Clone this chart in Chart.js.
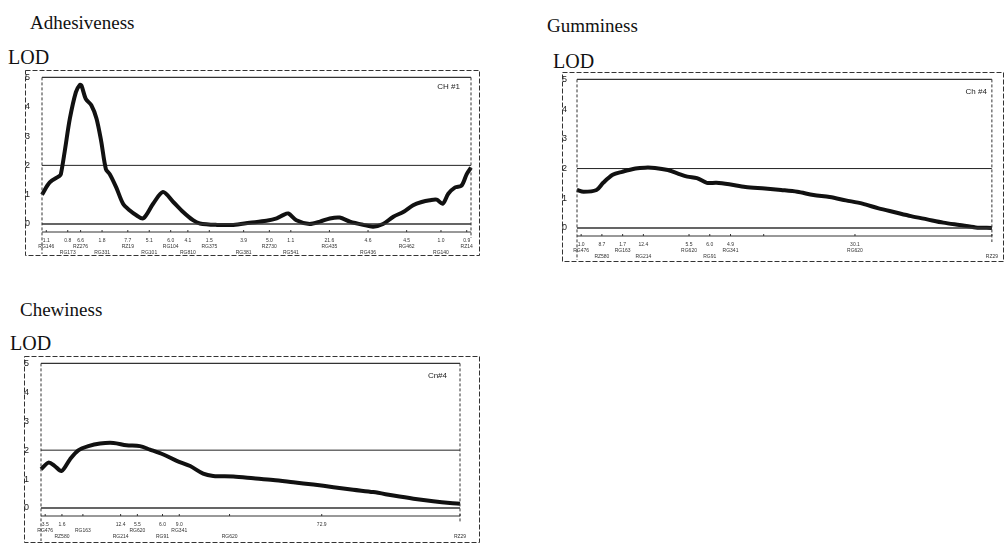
<!DOCTYPE html>
<html>
<head>
<meta charset="utf-8">
<script src="https://cdn.jsdelivr.net/npm/chart.js@4.4.0/dist/chart.umd.min.js"></script>
<style>
  body { margin: 0; width: 1008px; height: 543px; background: #fff; position: relative; overflow: hidden;
         font-family: "Liberation Serif", "DejaVu Serif", serif; color: #111; }
  .title { position: absolute; font-size: 19px; line-height: 1; }
  .lod { position: absolute; font-size: 20px; line-height: 1; }
  canvas { position: absolute; }
</style>
</head>
<body>

<div class="title" style="left:30px;top:13px">Adhesiveness</div>
<div class="lod" style="left:8px;top:47px">LOD</div>
<canvas id="adh" width="455" height="186" style="left:25px;top:70px"></canvas>

<div class="title" style="left:547px;top:16px">Gumminess</div>
<div class="lod" style="left:553px;top:51px">LOD</div>
<canvas id="gum" width="442" height="190" style="left:562px;top:72px"></canvas>

<div class="title" style="left:20px;top:300px">Chewiness</div>
<div class="lod" style="left:10px;top:333px">LOD</div>
<canvas id="che" width="456" height="187" style="left:24px;top:356px"></canvas>

<script>
// ===== data (position along the chromosome, % of length; LOD score) =====
const threshold = 2;
const lodTicks = [0, 1, 2, 3, 4, 5];

const adhPos = [0, 1.8, 4.1, 4.4, 5.3, 6.5, 7.9, 8.8, 9.2, 10.2, 11.5, 12.7, 13.8, 14.9, 15.8, 17.3, 18.9, 20.4, 22.0, 23.6,
  25.9, 28.2, 30.6, 32.9, 35.2, 36.8, 40.7, 44.6, 48.4, 52.3, 54.7, 56.2, 57.4, 59.3, 62.4, 64.8, 67.1, 69.4, 71.8, 74.9,
  77.2, 79.5, 81.9, 84.2, 86.5, 88.5, 90.4, 92.0, 93.4, 94.7, 96.3, 97.8, 99.0, 100];
const adhLod = [1.0, 1.42, 1.64, 1.70, 2.48, 3.6, 4.5, 4.74, 4.72, 4.27, 4.05, 3.6, 2.82, 1.87, 1.70, 1.25, 0.69, 0.47, 0.30, 0.19,
  0.69, 1.09, 0.75, 0.41, 0.13, 0.02, -0.03, -0.03, 0.04, 0.11, 0.19, 0.30, 0.36, 0.13, 0, 0.08, 0.19, 0.22, 0.08, -0.03,
  -0.09, 0, 0.25, 0.41, 0.64, 0.75, 0.81, 0.83, 0.69, 1.03, 1.25, 1.31, 1.70, 1.92];
const adhMarkerPos = [1, 6, 9, 14, 20, 25, 30, 34, 39, 47, 53, 58, 67, 76, 85, 93, 99];
const adhMarkerDist = ['1.1', '0.8', '6.6', '1.8', '7.7', '5.1', '6.0', '4.1', '1.5', '3.9', '5.0', '1.1', '21.6', '4.6', '4.5', '1.0', '0.9'];
const adhMarkerName = ['RG146', 'RG173', 'RZ276', 'RG331', 'RZ19', 'RG101', 'RG104', 'RG810', 'RG375', 'RG381', 'RZ730',
  'RG541', 'RG435', 'RG436', 'RG462', 'RG140', 'RZ14'];

const gumPos = [0, 1.6, 4.7, 6.3, 8.6, 10.9, 14.1, 16.4, 18.8, 21.9, 24.2, 26.6, 28.9, 31.3, 33.6, 36.7, 40.6, 45.3, 49.2, 53.1,
  57.0, 60.9, 64.8, 68.8, 72.7, 76.6, 80.5, 84.4, 88.3, 92.2, 96.1, 100];
const gumLod = [1.28, 1.22, 1.28, 1.52, 1.79, 1.89, 2.0, 2.03, 2.02, 1.95, 1.84, 1.73, 1.68, 1.52, 1.52, 1.47, 1.38, 1.33, 1.28, 1.22,
  1.11, 1.04, 0.93, 0.82, 0.66, 0.53, 0.40, 0.29, 0.18, 0.10, 0.02, 0];
const gumMarkerPos = [1, 6, 11, 16, 27, 32, 37, 45, 67, 100];
const gumMarkerDist = ['1.0', '8.7', '1.7', '12.4', '5.5', '6.0', '4.9', '', '30.1', ''];
const gumMarkerName = ['RG476', 'RZ580', 'RG163', 'RG214', 'RG620', 'RG91', 'RG341', '', 'RG620', 'RZ29'];

const chePos = [0, 1.8, 3.3, 4.9, 6.9, 8.9, 11.3, 14.1, 17.3, 20.4, 23.6, 26.0, 29.2, 32.4, 35.6, 38.7, 41.1, 45.9, 50.7, 55.4,
  60.2, 65.0, 69.8, 74.5, 79.3, 84.1, 88.9, 93.6, 97.6, 100];
const cheLod = [1.34, 1.57, 1.45, 1.28, 1.68, 1.99, 2.14, 2.23, 2.25, 2.17, 2.14, 2.02, 1.85, 1.63, 1.45, 1.19, 1.11, 1.09, 1.03, 0.97,
  0.89, 0.81, 0.72, 0.63, 0.55, 0.43, 0.32, 0.23, 0.17, 0.15];
const cheMarkerPos = [1, 5, 10, 19, 23, 29, 33, 45, 67, 100];
const cheMarkerDist = ['3.5', '1.6', '', '12.4', '5.5', '6.0', '9.0', '', '72.9', ''];
const cheMarkerName = ['RG476', 'RZ580', 'RG163', 'RG214', 'RG620', 'RG91', 'RG341', 'RG620', '', 'RZ29'];

// frame, separator band, chart tag
const framePlugin = {
  id: 'frame',
  afterDraw(chart, args, opts) {
    const { ctx, chartArea: a, width, height } = chart;
    ctx.save();
    ctx.strokeStyle = '#333';
    ctx.lineWidth = 1;
    // outer dashed box
    ctx.setLineDash([5, 2]);
    ctx.strokeRect(0.5, 0.5, width - 1, height - 1);
    // plot box: solid top/bottom, dashed sides
    ctx.setLineDash([]);
    ctx.lineWidth = 1.3;
    ctx.beginPath();
    ctx.moveTo(a.left, a.top); ctx.lineTo(a.right, a.top);
    ctx.moveTo(a.left, a.bottom); ctx.lineTo(a.right, a.bottom);
    ctx.stroke();
    ctx.lineWidth = 1;
    ctx.setLineDash([3, 2]);
    ctx.beginPath();
    ctx.moveTo(a.left, a.top); ctx.lineTo(a.left, height - 2);
    ctx.moveTo(a.right, a.top); ctx.lineTo(a.right, a.bottom + 14);
    ctx.stroke();
    // marker band line
    ctx.setLineDash([]);
    const by = a.bottom + 8;
    ctx.beginPath();
    ctx.moveTo(a.left, by); ctx.lineTo(a.right, by);
    chart.scales.x.ticks.forEach(t => {
      const x = chart.scales.x.getPixelForValue(t.value);
      ctx.moveTo(x, by); ctx.lineTo(x, by - 2);
    });
    ctx.stroke();
    // tag
    ctx.fillStyle = '#222';
    ctx.font = '8px "Liberation Sans", Arial, sans-serif';
    ctx.textAlign = 'right';
    ctx.textBaseline = 'middle';
    ctx.fillText(opts.tag, a.right - opts.dx, a.top + opts.dy);
    ctx.restore();
  }
};

function lodChart(id, pos, lod, markerPos, markerDist, markerName, lay) {
  new Chart(document.getElementById(id), {
    type: 'line',
    data: {
      datasets: [
        {
          data: pos.map((p, i) => ({ x: p, y: lod[i] })),
          borderColor: '#111', borderWidth: 4, tension: 0.3, pointRadius: 0, clip: false
        },
        {
          data: [{ x: 0, y: threshold }, { x: 100, y: threshold }],
          borderColor: '#222', borderWidth: 1, pointRadius: 0
        }
      ]
    },
    options: {
      responsive: false,
      animation: false,
      layout: { padding: { left: 0, right: lay.pr, top: lay.pt, bottom: 2 } },
      plugins: {
        legend: { display: false },
        tooltip: { enabled: false },
        frame: { tag: lay.tag, dx: lay.dx, dy: lay.dy }
      },
      scales: {
        x: {
          type: 'linear', min: 0, max: 100,
          grid: { display: false }, border: { display: false },
          afterBuildTicks: s => { s.ticks = markerPos.map(v => ({ value: v })); },
          afterFit: s => { s.height = lay.xh; },
          ticks: {
            autoSkip: false, maxRotation: 0, padding: 6, color: '#333',
            font: { size: 5, lineHeight: 1.15, family: 'Liberation Sans, Arial, sans-serif' },
            callback: (v, i) => i % 2 ? [markerDist[i], '', markerName[i]] : [markerDist[i], markerName[i]]
          }
        },
        y: {
          min: 0, max: 5,
          grid: { display: false }, border: { display: false },
          afterBuildTicks: s => { s.ticks = lodTicks.map(v => ({ value: v })); },
          afterFit: s => { s.width = lay.yw; },
          ticks: {
            crossAlign: 'far', padding: 2, color: '#222',
            font: { size: 9, family: 'Liberation Sans, Arial, sans-serif' }
          }
        }
      }
    },
    plugins: [framePlugin]
  });
}

lodChart('adh', adhPos, adhLod, adhMarkerPos, adhMarkerDist, adhMarkerName,
  { pr: 9, pt: 7, xh: 30, yw: 17, tag: 'CH #1', dx: 11, dy: 9 });
lodChart('gum', gumPos, gumLod, gumMarkerPos, gumMarkerDist, gumMarkerName,
  { pr: 1, pt: 6, xh: 32, yw: 15, tag: 'Ch #4', dx: 5, dy: 12 });
lodChart('che', chePos, cheLod, cheMarkerPos, cheMarkerDist, cheMarkerName,
  { pr: 20, pt: 5, xh: 33, yw: 17, tag: 'Cn#4', dx: 13, dy: 12 });
</script>
</body>
</html>
